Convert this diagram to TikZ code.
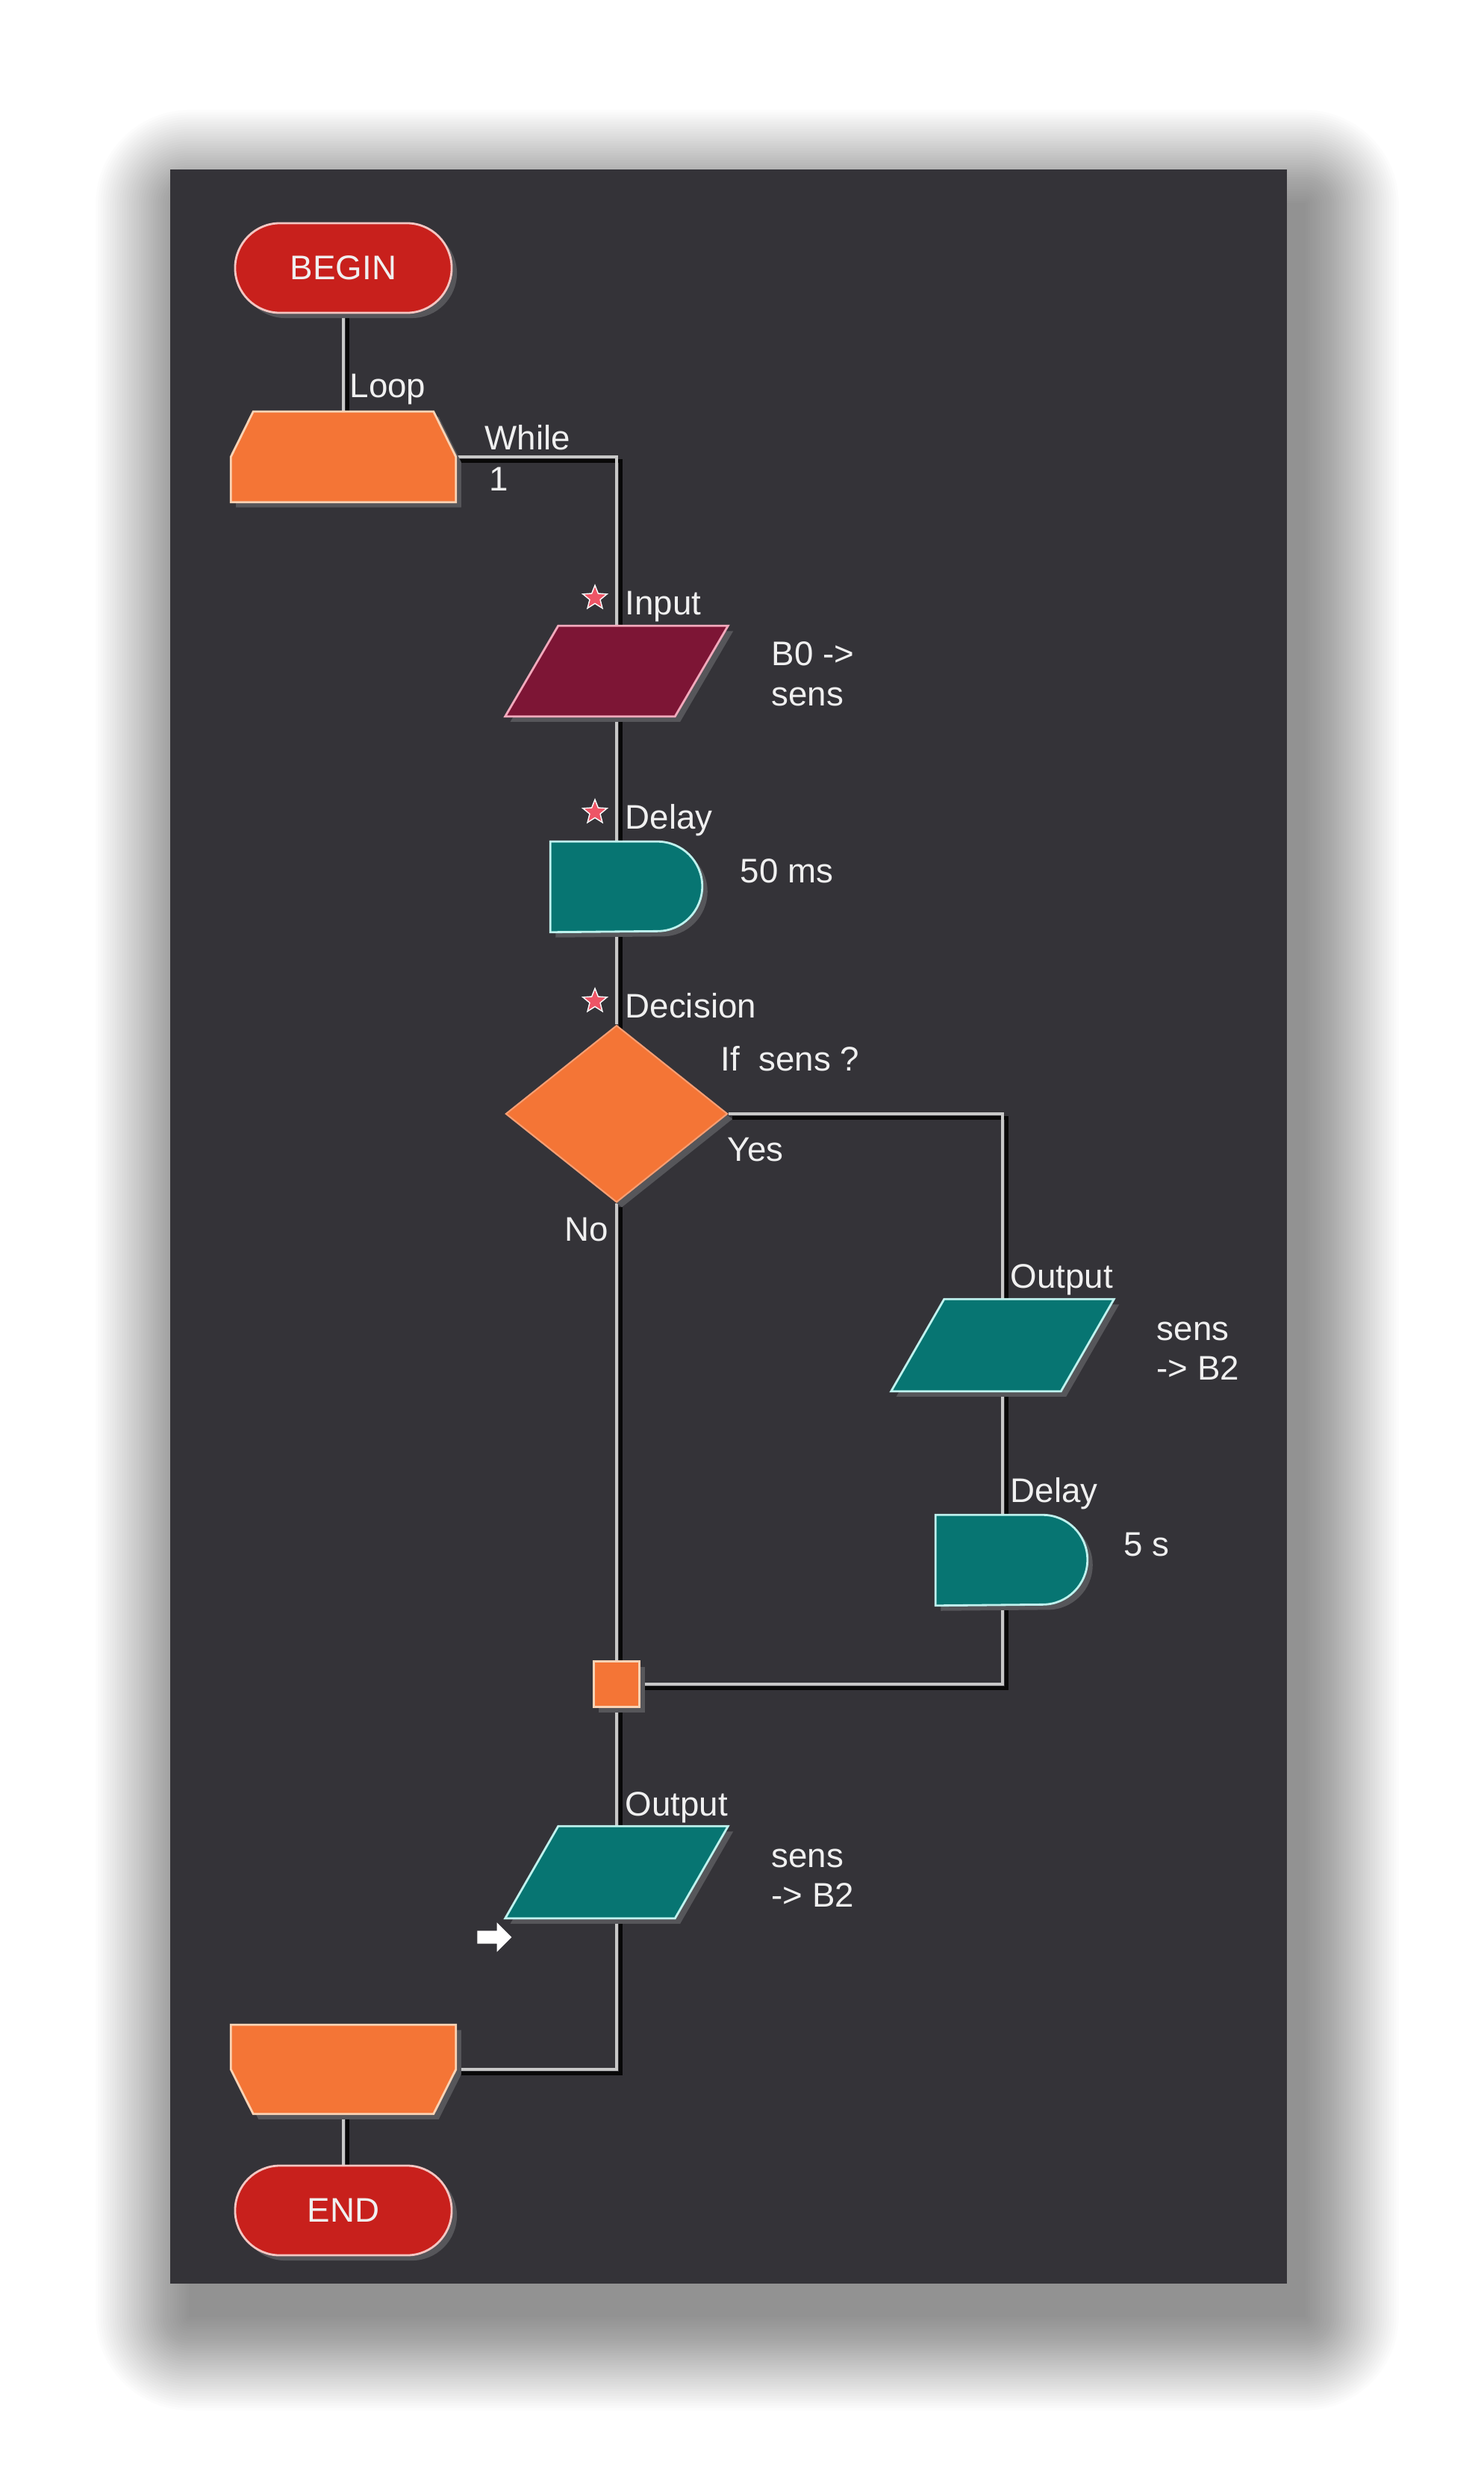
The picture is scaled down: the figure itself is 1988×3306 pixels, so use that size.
\documentclass[tikz,border=0pt]{standalone}
\usepackage{fontspec}
\setmainfont{Liberation Sans}
\usetikzlibrary{shapes.geometric,shapes.misc,shapes.arrows,shadows,calc}
\definecolor{panelc}{HTML}{343338}
\definecolor{redc}{HTML}{C8201C}
\definecolor{redb}{HTML}{F4C6C2}
\definecolor{orangec}{HTML}{F47536}
\definecolor{orangeb}{HTML}{F9D3B5}
\definecolor{maroonc}{HTML}{7D1535}
\definecolor{maroonb}{HTML}{F2A9BC}
\definecolor{tealc}{HTML}{077572}
\definecolor{tealb}{HTML}{BFF2EE}
\definecolor{linec}{HTML}{C8C8C8}
\definecolor{textc}{HTML}{F0F0F0}
\definecolor{shadc}{HTML}{56565A}
\definecolor{starc}{HTML}{EE5566}
\pgfdeclarelayer{back}
\pgfdeclarelayer{conns}
\pgfsetlayers{back,conns,main}
\begin{document}
\begin{tikzpicture}[x=0.01cm,y=-0.01cm,
  lbl/.style={text=textc, font=\fontsize{13pt}{15pt}\selectfont, inner sep=0pt, anchor=base west},
  shsh/.style={drop shadow={shadow xshift=0.07cm, shadow yshift=-0.07cm, fill=shadc, opacity=1}},
  holder/.style={rectangle, inner sep=0pt, minimum height=1.2cm},
  pill/.style={rounded rectangle, fill=redc, draw=redb, line width=0.8pt, minimum width=2.9cm, minimum height=1.2cm, inner sep=0pt, text=textc, font=\fontsize{13pt}{15pt}\selectfont, shsh},
  conn/.style={draw=linec, line width=1.1pt, preaction={draw=black!85!panelc, line width=1.3pt, transform canvas={xshift=1.5pt, yshift=-1.5pt}}},
  starmark/.style={star, star points=5, star point ratio=2.3, fill=starc, draw=white, line width=0.4pt, minimum size=0.34cm, inner sep=0pt},
  junction/.style={rectangle, fill=orangec, draw=orangeb, line width=0.8pt, minimum size=0.61cm, inner sep=0pt, shsh}
]
\useasboundingbox (0,0) rectangle (1988,3306);
\begin{pgfonlayer}{back}
\fill[white] (0,0) rectangle (1988,3306);
\foreach \i [evaluate=\i as \d using \i*3.2, evaluate=\i as \rr using \i*0.032+0.01] in {0,...,39} {
  \fill[black, opacity=0.011, rounded corners=\rr cm] ({253-\d},{272-\d}) rectangle ({1749+\d},{3104+\d});
}
\fill[panelc] (228,227) rectangle (1724,3059);
\end{pgfonlayer}

% nodes
\node[pill] (begin) at (460,359) {BEGIN};
\node[holder, minimum width=3.0cm] (loop) at (460,612) {};
\path[fill=orangec, draw=orangeb, line width=0.8pt, shsh] ([xshift=0.3cm]loop.north west) -- ([xshift=-0.3cm]loop.north east) -- (loop.east) -- (loop.south east) -- (loop.south west) -- (loop.west) -- cycle;

\node[holder, minimum width=2.97cm] (input) at (826,899) {};
\path[fill=maroonc, draw=maroonb, line width=0.8pt, shsh] (input.south west) -- ([xshift=0.71cm]input.north west) -- (input.north east) -- ([xshift=-0.71cm]input.south east) -- cycle;

\node[holder, minimum width=2.02cm] (delay1) at (839,1188) {};
\path[fill=tealc, draw=tealb, line width=0.8pt, shsh] (delay1.north west) -- ([xshift=-0.6cm]delay1.north east) arc[start angle=90, end angle=-90, radius=0.6cm] -- (delay1.south west) -- cycle;

\node[diamond, fill=orangec, draw=orangec!70!white, line width=0.6pt, minimum width=2.97cm, minimum height=2.37cm, inner sep=0pt, shsh] (dec) at (826,1492) {};

\node[holder, minimum width=2.97cm, minimum height=1.22cm] (out1) at (1343,1802) {};
\path[fill=tealc, draw=tealb, line width=0.8pt, shsh] (out1.south west) -- ([xshift=0.71cm]out1.north west) -- (out1.north east) -- ([xshift=-0.71cm]out1.south east) -- cycle;

\node[holder, minimum width=2.02cm] (delay2) at (1355,2090) {};
\path[fill=tealc, draw=tealb, line width=0.8pt, shsh] (delay2.north west) -- ([xshift=-0.6cm]delay2.north east) arc[start angle=90, end angle=-90, radius=0.6cm] -- (delay2.south west) -- cycle;

\node[junction] (junc) at (826,2256) {};

\node[holder, minimum width=2.97cm, minimum height=1.22cm] (out2) at (826,2508) {};
\path[fill=tealc, draw=tealb, line width=0.8pt, shsh] (out2.south west) -- ([xshift=0.71cm]out2.north west) -- (out2.north east) -- ([xshift=-0.71cm]out2.south east) -- cycle;

\node[holder, minimum width=3.0cm, minimum height=1.18cm] (loopend) at (460,2772) {};
\path[fill=orangec, draw=orangeb, line width=0.8pt, shsh] (loopend.north west) -- (loopend.north east) -- (loopend.east) -- ([xshift=-0.3cm]loopend.south east) -- ([xshift=0.3cm]loopend.south west) -- (loopend.west) -- cycle;

\node[pill] (endn) at (460,2961) {END};

% connectors
\begin{pgfonlayer}{conns}
\draw[conn] (begin.south) -- (loop.north);
\draw[conn] (loop.east) -| (input.north);
\draw[conn] (input.south) -- (input.south |- delay1.north);
\draw[conn] (input.south |- delay1.south) -- (dec.north);
\draw[conn] (dec.east) -| (out1.north);
\draw[conn] (out1.south) -- (out1.south |- delay2.north);
\draw[conn] (out1.south |- delay2.south) |- (junc.east);
\draw[conn] (dec.south) -- (junc.north);
\draw[conn] (junc.south) -- (out2.north);
\draw[conn] (out2.south) |- (loopend.east);
\draw[conn] (loopend.south) -- (endn.north);
\end{pgfonlayer}

% labels
\node[lbl] (lloop) at (468,532) {Loop};
\node[lbl] (lwhile) at (649,602) {While};
\node[lbl] (lone) at (655,657) {1};
\node[starmark] (s1) at (797,801) {};
\node[lbl] (linput) at (837,823) {Input};
\node[lbl] (lb0) at (1033,891) {B0 ->};
\node[lbl] (lsens1) at (1033,945) {sens};
\node[starmark] (s2) at (797,1088) {};
\node[lbl] (ldelay1) at (837,1110) {Delay};
\node[lbl] (l50) at (991,1182) {50 ms};
\node[starmark] (s3) at (797,1341) {};
\node[lbl] (ldec) at (837,1363) {Decision};
\node[lbl] (lif) at (965,1434) {If~~sens ?};
\node[lbl] (lyes) at (974,1555) {Yes};
\node[lbl, anchor=base east] (lno) at (816,1662) {No};
\node[lbl] (lout1) at (1353,1725) {Output};
\node[lbl] (lsens2) at (1549,1795) {sens};
\node[lbl] (lb2a) at (1549,1848) {-> B2};
\node[lbl] (ldelay2) at (1353,2012) {Delay};
\node[lbl] (l5s) at (1505,2084) {5 s};
\node[lbl] (lout2) at (837,2432) {Output};
\node[lbl] (lsens3) at (1033,2501) {sens};
\node[lbl] (lb2b) at (1033,2554) {-> B2};
\node[single arrow, fill=white, inner sep=0.08cm, single arrow head extend=0.11cm, single arrow head indent=0pt, minimum height=0.46cm] (arr) at (658,2595) {};
\end{tikzpicture}
\end{document}
